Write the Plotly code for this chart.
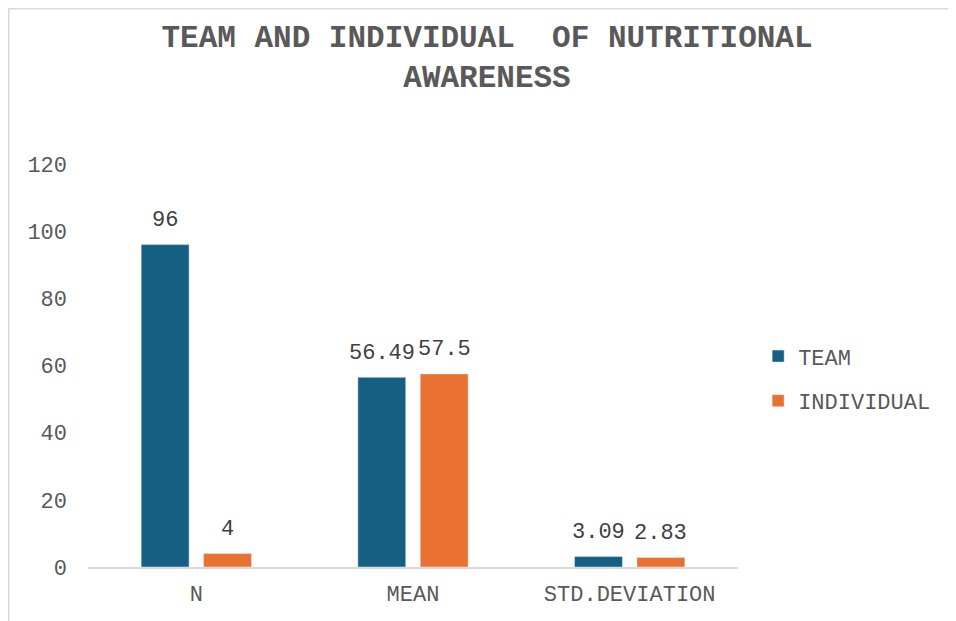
import plotly.graph_objects as go

categories = ["N", "MEAN", "STD.DEVIATION"]
team_values = [96, 56.49, 3.09]
individual_values = [4, 57.5, 2.83]
team_labels = ["96", "56.49", "3.09"]
individual_labels = ["4", "57.5", "2.83"]
y_ticks = [0, 20, 40, 60, 80, 100, 120]

FONT = "Liberation Mono, Courier New, monospace"
TEAM_COLOR = "#156082"
IND_COLOR = "#E97132"

# page offset of 8px (body margin) -> figure coordinates
W, H = 948, 613
PL, PR, PT, PB = 80, 730, 156, 559  # plot area in figure pixels

fig = go.Figure()
fig.add_trace(go.Bar(name="TEAM", x=categories, y=team_values,
                     marker=dict(color=TEAM_COLOR), legendgroup="a"))
fig.add_trace(go.Bar(name="INDIVIDUAL", x=categories, y=individual_values,
                     marker=dict(color=IND_COLOR), legendgroup="b"))

annotations = []
for cat, v, lab in zip(categories, team_values, team_labels):
    annotations.append(dict(x=cat, y=v, xref="x", yref="y", text=lab, showarrow=False,
                            xshift=-31, yshift=24, yanchor="middle",
                            font=dict(family=FONT, size=22, color="#404040")))
for cat, v, lab in zip(categories, individual_values, individual_labels):
    annotations.append(dict(x=cat, y=v, xref="x", yref="y", text=lab, showarrow=False,
                            xshift=31, yshift=24, yanchor="middle",
                            font=dict(family=FONT, size=22, color="#404040")))

pw, ph = PR - PL, PB - PT

fig.update_layout(
    width=W, height=H,
    paper_bgcolor="white", plot_bgcolor="white",
    margin=dict(l=PL, r=W - PR, t=PT, b=H - PB),
    barmode="group", bargap=0.424, bargroupgap=0.232,
    title=dict(text="<b>TEAM AND INDIVIDUAL  OF NUTRITIONAL<br>AWARENESS</b>",
               x=479 / W, xref="container", xanchor="center",
               y=1 - 38.5 / H, yref="container", yanchor="middle",
               font=dict(family=FONT, size=31, color="#595959")),
    font=dict(family=FONT, size=22, color="#595959"),
    xaxis=dict(showline=True, linecolor="#d9d9d9", linewidth=2, showgrid=False,
               ticks="", tickfont=dict(family=FONT, size=22, color="#595959"),
               ticklabelstandoff=6),
    yaxis=dict(range=[0, 120], tickvals=y_ticks, showgrid=False, zeroline=False,
               showline=False, ticks="", ticklabelstandoff=20,
               tickfont=dict(family=FONT, size=22, color="#595959")),
    legend=dict(x=1.031, y=0.467, xanchor="left", yanchor="middle",
                traceorder="grouped", tracegroupgap=13,
                font=dict(family=FONT, size=22, color="#595959")),
    annotations=annotations,
    shapes=[
        dict(type="line", xref="paper", yref="paper",
             x0=(0.5 - PL) / pw, x1=(0.5 - PL) / pw,
             y0=(PB - 0.5) / ph, y1=(PB - 700) / ph,
             line=dict(color="#d9d9d9", width=2)),
        dict(type="line", xref="paper", yref="paper",
             x0=(0.5 - PL) / pw, x1=(1000 - PL) / pw,
             y0=(PB - 0.5) / ph, y1=(PB - 0.5) / ph,
             line=dict(color="#d9d9d9", width=2)),
    ],
)

fig.write_html("out.html")
